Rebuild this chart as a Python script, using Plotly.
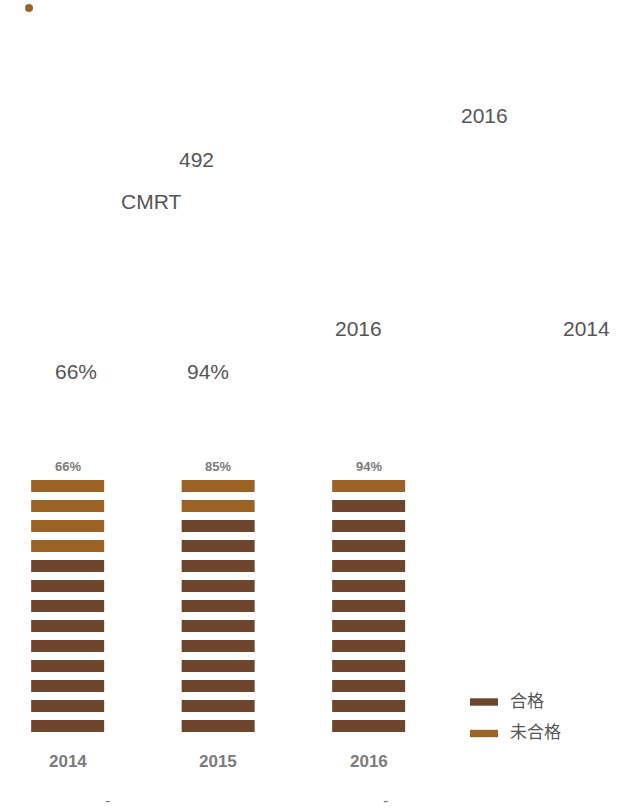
import plotly.graph_objects as go

# ---- data -------------------------------------------------------------
years = ["2014", "2015", "2016"]
pass_rate_labels = ["66%", "85%", "94%"]
pass_units = [9, 11, 12]      # brown segments per column (合格)
fail_units = [4, 2, 1]        # orange segments on top (未合格)
legend_names = ["合格", "未合格"]

# free-standing text fragments of the page: (text, left px, centre px)
page_texts = ["2016", "492", "CMRT", "2016", "2014", "66%", "94%"]
page_text_pos = [(459, 115), (177, 159), (119, 201), (333, 329),
                 (561, 329), (53, 372), (185, 372)]

# ---- styling ----------------------------------------------------------
W, H = 631, 811
BROWN = "#6C452C"
ORANGE = "#9B6326"
TEXT = "#555555"
LABEL = "#7B7B7B"
FONT = "Liberation Sans, Arial, Noto Sans CJK SC, sans-serif"
SEG = 0.6          # segment thickness in units (gap = 1 - SEG)
BAR_W = 0.485


def px(x):
    return x / W


def py(y):
    return 1 - y / H


# build one bar per segment
pass_x, pass_base, fail_x, fail_base = [], [], [], []
for yr, p, f in zip(years, pass_units, fail_units):
    for k in range(p):
        pass_x.append(yr)
        pass_base.append(k)
    for k in range(p, p + f):
        fail_x.append(yr)
        fail_base.append(k)

fig = go.Figure()
fig.add_trace(go.Bar(x=pass_x, y=[SEG] * len(pass_x), base=pass_base,
                     width=BAR_W, marker=dict(color=BROWN, line_width=0),
                     name=legend_names[0], showlegend=False,
                     hoverinfo="skip"))
fig.add_trace(go.Bar(x=fail_x, y=[SEG] * len(fail_x), base=fail_base,
                     width=BAR_W, marker=dict(color=ORANGE, line_width=0),
                     name=legend_names[1], showlegend=False,
                     hoverinfo="skip"))

annotations = []
shapes = []
# percentage above each column and year below it
for i, (yr, lab, p, f) in enumerate(zip(years, pass_rate_labels,
                                        pass_units, fail_units)):
    annotations.append(dict(x=i, y=p + f + 0.3, xref="x", yref="y",
                            text=f"<b>{lab}</b>", showarrow=False,
                            font=dict(size=13, color=LABEL, family=FONT),
                            xanchor="center", yanchor="middle"))
    annotations.append(dict(x=i, y=-1.45, xref="x", yref="y",
                            text=f"<b>{yr}</b>", showarrow=False,
                            font=dict(size=17, color=LABEL, family=FONT),
                            xanchor="center", yanchor="middle"))

for t, (lx, cy) in zip(page_texts, page_text_pos):
    annotations.append(dict(x=px(lx), y=py(cy), xref="paper", yref="paper",
                            text=t, showarrow=False,
                            font=dict(size=21, color=TEXT, family=FONT),
                            xanchor="left", yanchor="middle"))

for dx in (107, 385):
    annotations.append(dict(x=px(dx), y=py(800), xref="paper", yref="paper",
                            text="-", showarrow=False,
                            font=dict(size=16, color=LABEL, family=FONT),
                            xanchor="center", yanchor="middle"))

# legend: swatch + label rows
for j, (name, col) in enumerate(zip(legend_names, [BROWN, ORANGE])):
    cy = 702 + 31.5 * j
    shapes.append(dict(type="rect", xref="paper", yref="paper",
                       x0=px(470), x1=px(498), y0=py(cy + 3.7),
                       y1=py(cy - 3.7), fillcolor=col, line_width=0))
    annotations.append(dict(x=px(508), y=py(cy - 1), xref="paper",
                            yref="paper", text=name, showarrow=False,
                            font=dict(size=17, color=TEXT, family=FONT),
                            xanchor="left", yanchor="middle"))

# bullet dot
shapes.append(dict(type="circle", xref="paper", yref="paper",
                   x0=px(25), x1=px(33), y0=py(12), y1=py(4),
                   fillcolor=ORANGE, line_width=0))

fig.update_layout(
    width=W, height=H,
    margin=dict(l=0, r=0, t=0, b=0),
    paper_bgcolor="white", plot_bgcolor="white",
    barmode="overlay",
    xaxis=dict(type="category", categoryorder="array", categoryarray=years,
               range=[-0.4496, 3.7431], visible=False, fixedrange=True),
    yaxis=dict(range=[-3.95, 36.6], visible=False, fixedrange=True),
    annotations=annotations,
    shapes=shapes,
    showlegend=False,
)

fig.write_html("out.html")
